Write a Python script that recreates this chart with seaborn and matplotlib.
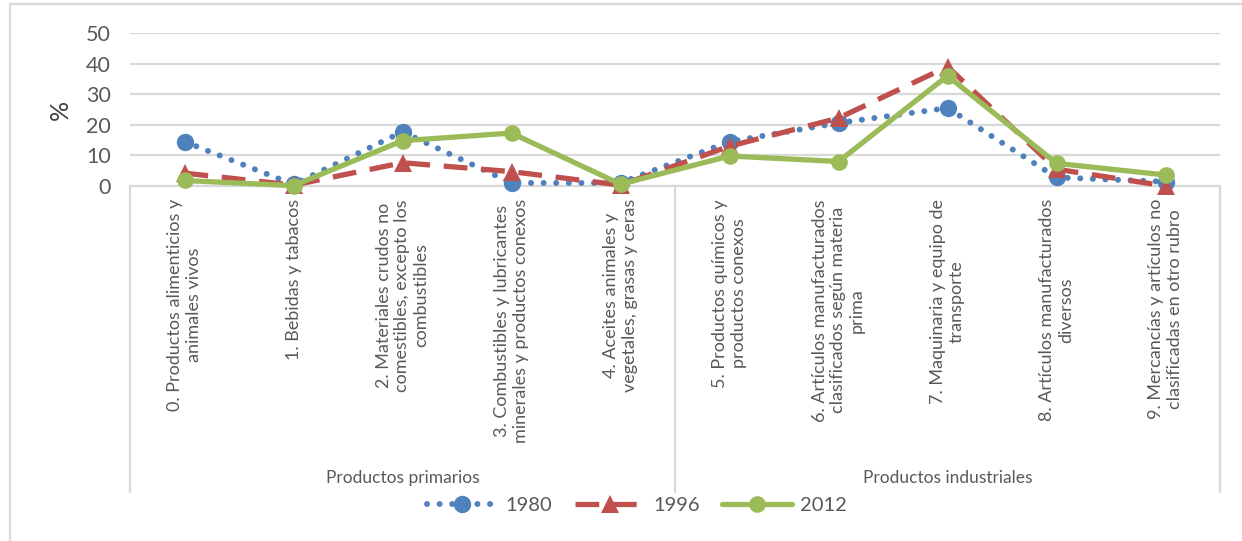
import matplotlib
matplotlib.use("Agg")
import matplotlib.pyplot as plt
from matplotlib.lines import Line2D
from matplotlib.patches import Rectangle
import seaborn as sns
import pandas as pd

# --- data -----------------------------------------------------------------
categories = [
    "0. Productos alimenticios y\nanimales vivos",
    "1. Bebidas y tabacos",
    "2. Materiales crudos no\ncomestibles, excepto los\ncombustibles",
    "3. Combustibles y lubricantes\nminerales y productos conexos",
    "4. Aceites animales y\nvegetales, grasas y ceras",
    "5. Productos químicos y\nproductos conexos",
    "6. Artículos manufacturados\nclasificados según materia\nprima",
    "7. Maquinaria y equipo de\ntransporte",
    "8. Artículos manufacturados\ndiversos",
    "9. Mercancías y artículos no\nclasificadas en otro rubro",
]
groups = ["Productos primarios", "Productos industriales"]
group_sizes = [5, 5]

years = ["1980", "1996", "2012"]
values_1980 = [14.5, 0.5, 17.7, 1.0, 1.0, 14.5, 20.6, 25.5, 2.8, 1.4]
values_1996 = [4.2, 0.3, 7.6, 4.7, 0.3, 13.0, 22.2, 39.0, 5.5, 0.0]
values_2012 = [1.8, 0.1, 14.8, 17.3, 0.6, 9.8, 8.0, 36.0, 7.4, 3.6]
y_ticks = [0, 10, 20, 30, 40, 50]
y_label = "%"

# --- styling --------------------------------------------------------------
sns.set_theme(style="white")
plt.rcParams["font.family"] = ["Lato", "DejaVu Sans"]

W, H = 1242, 541
fig = plt.figure(figsize=(W / 100, H / 100), dpi=100)
fig.patch.set_facecolor("white")

left_px, right_px, top_px, bottom_px = 130, 1220, 33, 186
ax = fig.add_axes([left_px / W, 1 - bottom_px / H,
                   (right_px - left_px) / W, (bottom_px - top_px) / H])
ax.patch.set_alpha(0)

df = pd.DataFrame({
    "pos": list(range(len(categories))) * 3,
    "valor": values_1980 + values_1996 + values_2012,
    "año": [years[0]] * len(categories) + [years[1]] * len(categories)
           + [years[2]] * len(categories),
})

blue, red, green = "#4F81BD", "#C0504D", "#9BBB59"
styles = {
    "1980": dict(color=blue, marker="o", markersize=12.5, linewidth=4.3,
                 linestyle=(0, (0.01, 2.1))),
    "1996": dict(color=red, marker="^", markersize=12.5, linewidth=3.8,
                 linestyle=(0, (4.5, 2.6))),
    "2012": dict(color=green, marker="o", markersize=12, linewidth=3.8,
                 linestyle="-"),
}

handles = []
for yr in years:
    st = styles[yr]
    sub = df[df["año"] == yr]
    sns.lineplot(data=sub, x="pos", y="valor", ax=ax, color=st["color"],
                 linewidth=st["linewidth"], marker=st["marker"],
                 markersize=st["markersize"], markeredgewidth=0,
                 legend=False, zorder=3)
    ln = ax.get_lines()[-1]
    ln.set_linestyle(st["linestyle"])
    ln.set_dash_capstyle("round" if yr == "1980" else "butt")
    ln.set_solid_capstyle("round")
    ln.set_clip_on(False)
    h = Line2D([], [], color=st["color"], linewidth=st["linewidth"],
               linestyle=st["linestyle"], marker=st["marker"],
               markersize=st["markersize"], markeredgewidth=0,
               dash_capstyle="round" if yr == "1980" else "butt")
    handles.append(h)

ax.set_xlim(-0.5, len(categories) - 0.5)
ax.set_ylim(0, 50)
ax.set_yticks(y_ticks)
ax.set_yticklabels([str(t) for t in y_ticks], fontsize=15.5, color="#595959")
ax.tick_params(axis="y", length=0, pad=14)
ax.set_xticks([])
ax.set_xlabel("")
ax.set_ylabel(y_label, fontsize=18, color="#404040", labelpad=10)
ax.yaxis.grid(True, color="#D9D9D9", linewidth=1.6)
ax.set_axisbelow(True)
for s in ["top", "right", "left"]:
    ax.spines[s].set_visible(False)
ax.spines["bottom"].set_color("#D9D9D9")
ax.spines["bottom"].set_linewidth(1.6)

# category labels and group separators beneath the axis
trans = ax.get_xaxis_transform()
span = bottom_px - top_px
label_top = -13 / span
for i, lab in enumerate(categories):
    ax.text(i, label_top, lab, transform=trans, rotation=90,
            ha="center", va="top", multialignment="center",
            fontsize=13, color="#595959", linespacing=1.2)

sep_bottom = -(492 - bottom_px) / span
edges = [-0.5]
for n in group_sizes:
    edges.append(edges[-1] + n)
for e in edges:
    ax.plot([e, e], [0, sep_bottom], transform=trans, color="#D9D9D9",
            linewidth=1.6, clip_on=False)

group_y = -(478 - bottom_px) / span
for g, a, b in zip(groups, edges[:-1], edges[1:]):
    ax.text((a + b) / 2, group_y, g, transform=trans, ha="center",
            va="center", fontsize=12.5, color="#595959")

# legend
leg = fig.legend(handles, years, loc="center", ncol=3,
                 bbox_to_anchor=(0.513, 1 - 505 / H), frameon=False,
                 fontsize=14.5, handlelength=3.5, handletextpad=0.4,
                 columnspacing=1.1, labelcolor="#595959")

# chart frame
fig.patches.append(Rectangle((10 / W, -0.02), 1.05, 1 - 4 / H + 0.02,
                             transform=fig.transFigure, fill=False,
                             edgecolor="#D9D9D9", linewidth=1.6))

fig.savefig("out.png", dpi=100, facecolor="white")
